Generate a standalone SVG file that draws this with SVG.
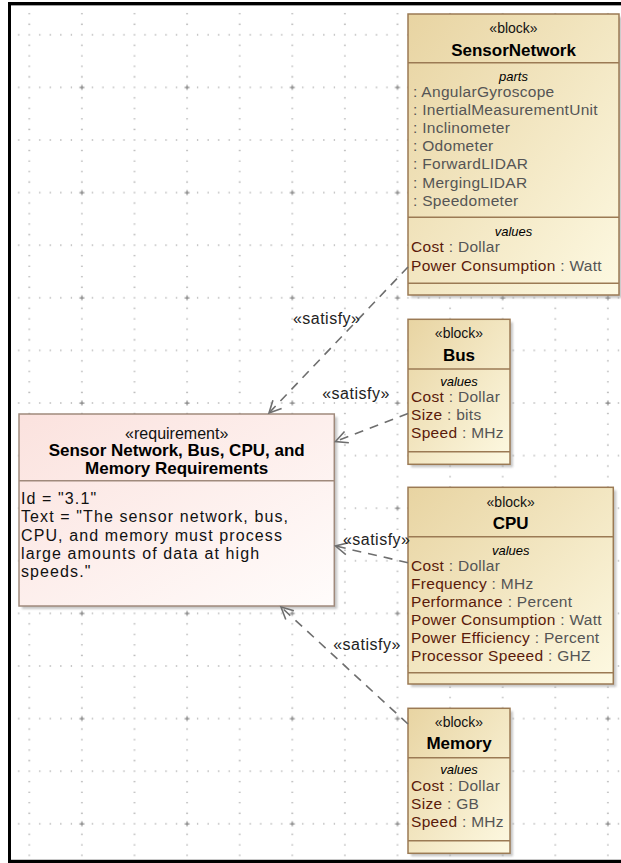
<svg xmlns="http://www.w3.org/2000/svg" width="621" height="863" viewBox="0 0 621 863">
<defs>
<style>
text{font-family:"Liberation Sans",Arial,sans-serif}
.st{font-size:14px;fill:#111;text-anchor:middle}
.nm{font-size:17px;font-weight:bold;fill:#000;text-anchor:middle}
.cp{font-size:13px;font-style:italic;fill:#000;text-anchor:middle}
.pr{font-size:15.5px;letter-spacing:0.3px;fill:#555}
.pn{fill:#5a1a0a}
.rs{font-size:16px;fill:#111;text-anchor:middle}
.rb{font-size:16px;letter-spacing:1.1px;fill:#111}
.lbl{font-size:16px;letter-spacing:0.5px;fill:#222;text-anchor:middle}
.blk{fill:url(#blockFill);stroke:#9b7a54;stroke-width:1.5}
.req{fill:url(#reqFill);stroke:#a08a7c;stroke-width:1.5}
.sep{stroke:#9b7a54;stroke-width:1.5}
.rsep{stroke:#a08a7c;stroke-width:1.5}
.shd{fill:#9a9a9a;opacity:0.55;filter:url(#blur)}
.conn{fill:none;stroke:#6e6e6e;stroke-width:1.6;stroke-dasharray:9 7}
</style>
<linearGradient id="blockFill" x1="0" y1="0" x2="1" y2="1">
<stop offset="0" stop-color="#e8d4a2"/>
<stop offset="1" stop-color="#fdf9e2"/>
</linearGradient>
<linearGradient id="reqFill" x1="0" y1="0" x2="1" y2="1">
<stop offset="0" stop-color="#fbe2de"/>
<stop offset="1" stop-color="#fffcfb"/>
</linearGradient>
<filter id="blur" x="-10%" y="-10%" width="120%" height="120%"><feGaussianBlur stdDeviation="1.2"/></filter>
<pattern id="grid" patternUnits="userSpaceOnUse" x="28.3" y="33.8" width="52.6" height="52.6">
<g fill="#a6a6a6">
<circle cx="1" cy="1" r="0.8"/><circle cx="11.52" cy="1" r="0.8"/><circle cx="22.04" cy="1" r="0.8"/><circle cx="32.56" cy="1" r="0.8"/><circle cx="43.08" cy="1" r="0.8"/>
<circle cx="1" cy="11.52" r="0.8"/><circle cx="1" cy="22.04" r="0.8"/><circle cx="1" cy="32.56" r="0.8"/><circle cx="1" cy="43.08" r="0.8"/>
</g>
</pattern>
<pattern id="cross" patternUnits="userSpaceOnUse" x="78.9" y="84.4" width="105.2" height="105.2">
<path d="M0.5 3H5.5M3 0.5V5.5" stroke="#8a8a8a" stroke-width="1.2"/>
</pattern>
<marker id="open" markerUnits="userSpaceOnUse" viewBox="-14 -8 16 16" refX="0" refY="0" markerWidth="16" markerHeight="16" orient="auto" overflow="visible">
<path d="M-12 -6 L0 0 L-12 6" fill="none" stroke="#6e6e6e" stroke-width="1.6"/>
</marker>
</defs>

<rect x="0" y="0" width="621" height="863" fill="#ffffff"/>
<rect x="11" y="5" width="610" height="855" fill="url(#grid)"/>
<rect x="11" y="5" width="610" height="855" fill="url(#cross)"/>

<g id="frame">
<rect x="8" y="2" width="613" height="3" fill="#000"/>
<rect x="8" y="2" width="3" height="861" fill="#000"/>
<rect x="8" y="860" width="613" height="3" fill="#000"/>
<line x1="11" y1="5.5" x2="621" y2="5.5" stroke="#a0a0a0" stroke-width="1"/>
<line x1="11" y1="859.5" x2="621" y2="859.5" stroke="#c8c8c8" stroke-width="1"/>
</g>

<g id="SensorNetwork">
<rect class="shd" x="411" y="17" width="211" height="281"/>
<rect class="blk" x="408" y="14" width="211" height="281"/>
<line class="sep" x1="408" y1="62.7" x2="619" y2="62.7"/>
<line class="sep" x1="408" y1="217.3" x2="619" y2="217.3"/>
<line class="sep" x1="408" y1="283.3" x2="619" y2="283.3"/>
<text class="st" x="513.5" y="33">«block»</text>
<text class="nm" x="513.5" y="56">SensorNetwork</text>
<text class="cp" x="513.5" y="80.5">parts</text>
<text class="pr" x="413" y="97">: AngularGyroscope</text>
<text class="pr" x="413" y="115">: InertialMeasurementUnit</text>
<text class="pr" x="413" y="133">: Inclinometer</text>
<text class="pr" x="413" y="151.2">: Odometer</text>
<text class="pr" x="413" y="169.4">: ForwardLIDAR</text>
<text class="pr" x="413" y="187.6">: MergingLIDAR</text>
<text class="pr" x="413" y="205.8">: Speedometer</text>
<text class="cp" x="513.5" y="236">values</text>
<text class="pr" x="411" y="252.3"><tspan class="pn">Cost</tspan> : Dollar</text>
<text class="pr" x="411" y="271"><tspan class="pn">Power Consumption</tspan> : Watt</text>
</g>

<g id="Bus">
<rect class="shd" x="411" y="322.3" width="102" height="145"/>
<rect class="blk" x="408" y="319.3" width="102" height="145"/>
<line class="sep" x1="408" y1="369" x2="510" y2="369"/>
<line class="sep" x1="408" y1="451.7" x2="510" y2="451.7"/>
<text class="st" x="459" y="338.3">«block»</text>
<text class="nm" x="459" y="361">Bus</text>
<text class="cp" x="459" y="385.5">values</text>
<text class="pr" x="411" y="402.3"><tspan class="pn">Cost</tspan> : Dollar</text>
<text class="pr" x="411" y="420.3"><tspan class="pn">Size</tspan> : bits</text>
<text class="pr" x="411" y="438.3"><tspan class="pn">Speed</tspan> : MHz</text>
</g>

<g id="CPU">
<rect class="shd" x="411" y="490.3" width="205.3" height="196.7"/>
<rect class="blk" x="408" y="487.3" width="205.3" height="196.7"/>
<line class="sep" x1="408" y1="536.7" x2="613.3" y2="536.7"/>
<line class="sep" x1="408" y1="672.7" x2="613.3" y2="672.7"/>
<text class="st" x="510.7" y="506.5">«block»</text>
<text class="nm" x="510.7" y="528.7">CPU</text>
<text class="cp" x="510.7" y="554.5">values</text>
<text class="pr" x="411" y="570.5"><tspan class="pn">Cost</tspan> : Dollar</text>
<text class="pr" x="411" y="588.6"><tspan class="pn">Frequency</tspan> : MHz</text>
<text class="pr" x="411" y="606.7"><tspan class="pn">Performance</tspan> : Percent</text>
<text class="pr" x="411" y="624.8"><tspan class="pn">Power Consumption</tspan> : Watt</text>
<text class="pr" x="411" y="642.9"><tspan class="pn">Power Efficiency</tspan> : Percent</text>
<text class="pr" x="411" y="661"><tspan class="pn">Processor Speeed</tspan> : GHZ</text>
</g>

<g id="Memory">
<rect class="shd" x="411" y="711.3" width="102" height="145"/>
<rect class="blk" x="408" y="708.3" width="102" height="145"/>
<line class="sep" x1="408" y1="757.7" x2="510" y2="757.7"/>
<line class="sep" x1="408" y1="840.7" x2="510" y2="840.7"/>
<text class="st" x="459" y="727.3">«block»</text>
<text class="nm" x="459" y="749.3">Memory</text>
<text class="cp" x="459" y="773.8">values</text>
<text class="pr" x="411" y="790.7"><tspan class="pn">Cost</tspan> : Dollar</text>
<text class="pr" x="411" y="808.5"><tspan class="pn">Size</tspan> : GB</text>
<text class="pr" x="411" y="826.5"><tspan class="pn">Speed</tspan> : MHz</text>
</g>

<g id="Requirement">
<rect class="shd" x="22" y="417" width="315.3" height="192"/>
<rect class="req" x="19" y="414" width="315.3" height="192"/>
<line class="rsep" x1="19" y1="480.7" x2="334.3" y2="480.7"/>
<text class="rs" x="176.7" y="438.5">«requirement»</text>
<text class="nm" x="176.7" y="456">Sensor Network, Bus, CPU, and</text>
<text class="nm" x="176.7" y="474">Memory Requirements</text>
<text class="rb" x="21" y="504">Id = "3.1"</text>
<text class="rb" x="21" y="522.3">Text = "The sensor network, bus,</text>
<text class="rb" x="21" y="540.6">CPU, and memory must process</text>
<text class="rb" x="21" y="558.9">large amounts of data at high</text>
<text class="rb" x="21" y="577.2">speeds."</text>
</g>

<g id="connectors">
<path class="conn" d="M408 267 L269 413" marker-end="url(#open)"/>
<path class="conn" d="M408 413.5 L335.5 441.5" marker-end="url(#open)"/>
<path class="conn" d="M408 562.7 L335.5 546" marker-end="url(#open)"/>
<path class="conn" d="M408 724 L281 607" marker-end="url(#open)"/>
<text class="lbl" x="326.7" y="323.5">«satisfy»</text>
<text class="lbl" x="356" y="398.5">«satisfy»</text>
<text class="lbl" x="376.7" y="545">«satisfy»</text>
<text class="lbl" x="367" y="650">«satisfy»</text>
</g>
</svg>
